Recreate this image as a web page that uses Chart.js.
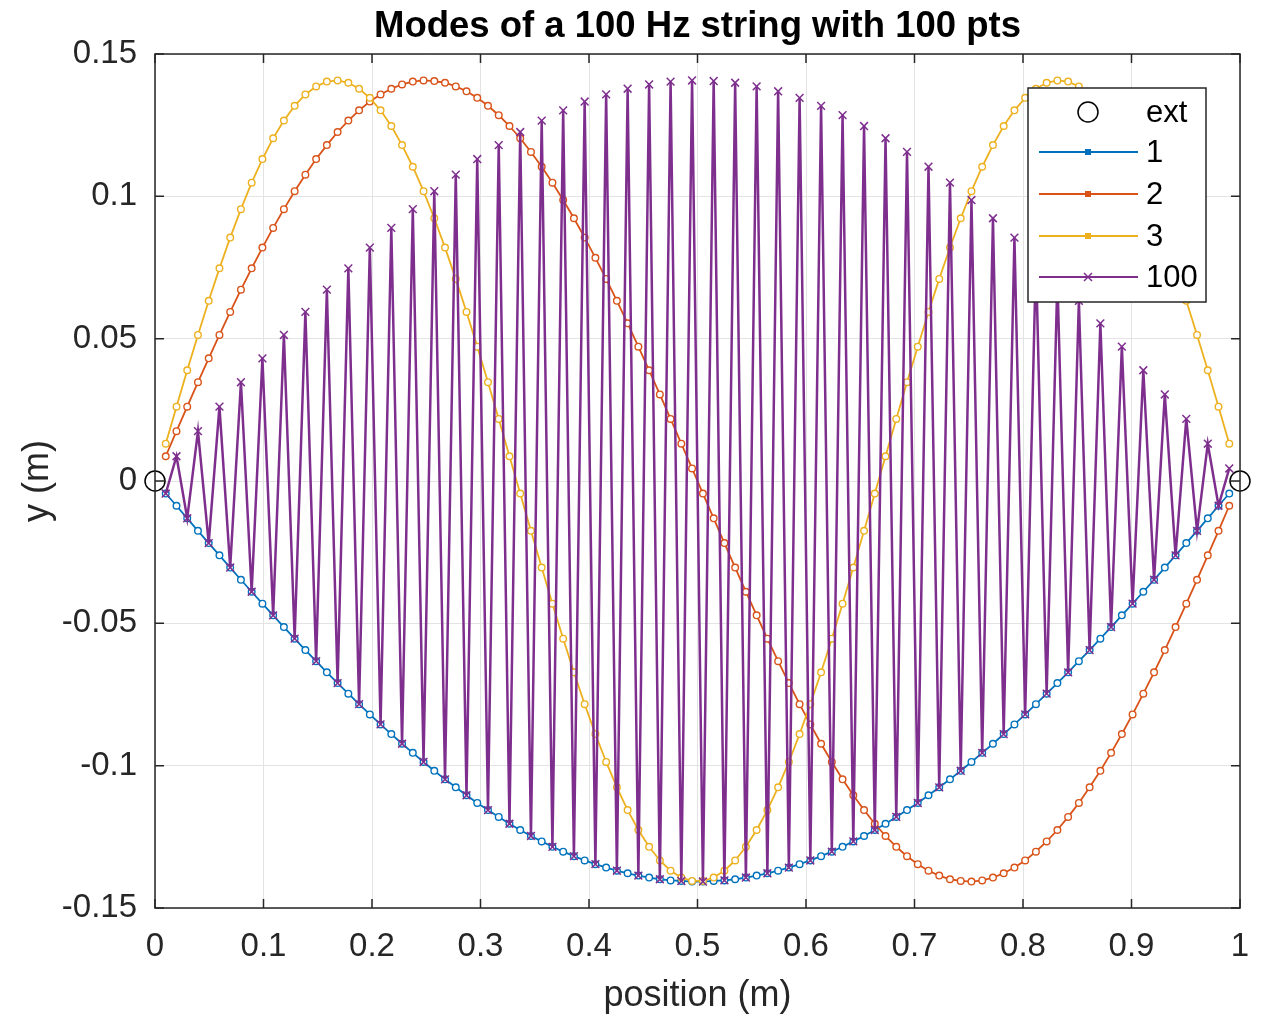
<!DOCTYPE html>
<html>
<head>
<meta charset="utf-8">
<script src="https://cdn.jsdelivr.net/npm/chart.js"></script>
<style>
html, body { margin: 0; padding: 0; background: #fff; }
canvas { display: block; }
</style>
</head>
<body>
<canvas id="modes" width="1261" height="1014"></canvas>
<script>
// string positions (m), 100 interior points
const position = [
  0.0099,0.0198,0.0297,0.0396,0.0495,0.0594,0.0693,0.0792,0.0891,0.0990,
  0.1089,0.1188,0.1287,0.1386,0.1485,0.1584,0.1683,0.1782,0.1881,0.1980,
  0.2079,0.2178,0.2277,0.2376,0.2475,0.2574,0.2673,0.2772,0.2871,0.2970,
  0.3069,0.3168,0.3267,0.3366,0.3465,0.3564,0.3663,0.3762,0.3861,0.3960,
  0.4059,0.4158,0.4257,0.4356,0.4455,0.4554,0.4653,0.4752,0.4851,0.4950,
  0.5050,0.5149,0.5248,0.5347,0.5446,0.5545,0.5644,0.5743,0.5842,0.5941,
  0.6040,0.6139,0.6238,0.6337,0.6436,0.6535,0.6634,0.6733,0.6832,0.6931,
  0.7030,0.7129,0.7228,0.7327,0.7426,0.7525,0.7624,0.7723,0.7822,0.7921,
  0.8020,0.8119,0.8218,0.8317,0.8416,0.8515,0.8614,0.8713,0.8812,0.8911,
  0.9010,0.9109,0.9208,0.9307,0.9406,0.9505,0.9604,0.9703,0.9802,0.9901
];

const mode1 = [
  -0.0044,-0.0087,-0.0131,-0.0175,-0.0218,-0.0261,-0.0304,-0.0347,-0.0389,-0.0431,
  -0.0472,-0.0513,-0.0554,-0.0594,-0.0633,-0.0672,-0.0710,-0.0747,-0.0784,-0.0820,
  -0.0855,-0.0889,-0.0923,-0.0955,-0.0987,-0.1018,-0.1048,-0.1076,-0.1104,-0.1131,
  -0.1156,-0.1180,-0.1204,-0.1226,-0.1247,-0.1266,-0.1285,-0.1302,-0.1318,-0.1333,
  -0.1346,-0.1358,-0.1369,-0.1378,-0.1386,-0.1393,-0.1399,-0.1403,-0.1405,-0.1407,
  -0.1407,-0.1405,-0.1403,-0.1399,-0.1393,-0.1386,-0.1378,-0.1369,-0.1358,-0.1346,
  -0.1333,-0.1318,-0.1302,-0.1285,-0.1266,-0.1247,-0.1226,-0.1204,-0.1180,-0.1156,
  -0.1131,-0.1104,-0.1076,-0.1048,-0.1018,-0.0987,-0.0955,-0.0923,-0.0889,-0.0855,
  -0.0820,-0.0784,-0.0747,-0.0710,-0.0672,-0.0633,-0.0594,-0.0554,-0.0513,-0.0472,
  -0.0431,-0.0389,-0.0347,-0.0304,-0.0261,-0.0218,-0.0175,-0.0131,-0.0087,-0.0044
];

const mode2 = [
  0.0087,0.0175,0.0261,0.0347,0.0431,0.0513,0.0594,0.0672,0.0747,0.0820,
  0.0889,0.0955,0.1018,0.1076,0.1131,0.1180,0.1226,0.1266,0.1302,0.1333,
  0.1358,0.1378,0.1393,0.1403,0.1407,0.1405,0.1399,0.1386,0.1369,0.1346,
  0.1318,0.1285,0.1247,0.1204,0.1156,0.1104,0.1048,0.0987,0.0923,0.0855,
  0.0784,0.0710,0.0633,0.0554,0.0472,0.0389,0.0304,0.0218,0.0131,0.0044,
  -0.0044,-0.0131,-0.0218,-0.0304,-0.0389,-0.0472,-0.0554,-0.0633,-0.0710,-0.0784,
  -0.0855,-0.0923,-0.0987,-0.1048,-0.1104,-0.1156,-0.1204,-0.1247,-0.1285,-0.1318,
  -0.1346,-0.1369,-0.1386,-0.1399,-0.1405,-0.1407,-0.1403,-0.1393,-0.1378,-0.1358,
  -0.1333,-0.1302,-0.1266,-0.1226,-0.1180,-0.1131,-0.1076,-0.1018,-0.0955,-0.0889,
  -0.0820,-0.0747,-0.0672,-0.0594,-0.0513,-0.0431,-0.0347,-0.0261,-0.0175,-0.0087
];

const mode3 = [
  0.0131,0.0261,0.0389,0.0513,0.0633,0.0747,0.0855,0.0955,0.1048,0.1131,
  0.1204,0.1266,0.1318,0.1358,0.1386,0.1403,0.1407,0.1399,0.1378,0.1346,
  0.1302,0.1247,0.1180,0.1104,0.1018,0.0923,0.0820,0.0710,0.0594,0.0472,
  0.0347,0.0218,0.0087,-0.0044,-0.0175,-0.0304,-0.0431,-0.0554,-0.0672,-0.0784,
  -0.0889,-0.0987,-0.1076,-0.1156,-0.1226,-0.1285,-0.1333,-0.1369,-0.1393,-0.1405,
  -0.1405,-0.1393,-0.1369,-0.1333,-0.1285,-0.1226,-0.1156,-0.1076,-0.0987,-0.0889,
  -0.0784,-0.0672,-0.0554,-0.0431,-0.0304,-0.0175,-0.0044,0.0087,0.0218,0.0347,
  0.0472,0.0594,0.0710,0.0820,0.0923,0.1018,0.1104,0.1180,0.1247,0.1302,
  0.1346,0.1378,0.1399,0.1407,0.1403,0.1386,0.1358,0.1318,0.1266,0.1204,
  0.1131,0.1048,0.0955,0.0855,0.0747,0.0633,0.0513,0.0389,0.0261,0.0131
];

const mode100 = [
  -0.0044,0.0087,-0.0131,0.0175,-0.0218,0.0261,-0.0304,0.0347,-0.0389,0.0431,
  -0.0472,0.0513,-0.0554,0.0594,-0.0633,0.0672,-0.0710,0.0747,-0.0784,0.0820,
  -0.0855,0.0889,-0.0923,0.0955,-0.0987,0.1018,-0.1048,0.1076,-0.1104,0.1131,
  -0.1156,0.1180,-0.1204,0.1226,-0.1247,0.1266,-0.1285,0.1302,-0.1318,0.1333,
  -0.1346,0.1358,-0.1369,0.1378,-0.1386,0.1393,-0.1399,0.1403,-0.1405,0.1407,
  -0.1407,0.1405,-0.1403,0.1399,-0.1393,0.1386,-0.1378,0.1369,-0.1358,0.1346,
  -0.1333,0.1318,-0.1302,0.1285,-0.1266,0.1247,-0.1226,0.1204,-0.1180,0.1156,
  -0.1131,0.1104,-0.1076,0.1048,-0.1018,0.0987,-0.0955,0.0923,-0.0889,0.0855,
  -0.0820,0.0784,-0.0747,0.0710,-0.0672,0.0633,-0.0594,0.0554,-0.0513,0.0472,
  -0.0431,0.0389,-0.0347,0.0304,-0.0261,0.0218,-0.0175,0.0131,-0.0087,0.0044
];

// fixed ends of the string
const extX = [0, 1];
const extY = [0, 0];

const xTicks = [0, 0.1, 0.2, 0.3, 0.4, 0.5, 0.6, 0.7, 0.8, 0.9, 1];
const xTickLabels = ["0","0.1","0.2","0.3","0.4","0.5","0.6","0.7","0.8","0.9","1"];
const yTicks = [-0.15, -0.1, -0.05, 0, 0.05, 0.1, 0.15];
const yTickLabels = ["-0.15","-0.1","-0.05","0","0.05","0.1","0.15"];

const TITLE = "Modes of a 100 Hz string with 100 pts";
const FONT = '"Liberation Sans", Arial, Helvetica, sans-serif';
const AXIS = "#262626";

function pts(xs, ys) {
    return xs.map((x, i) => ({ x: x, y: ys[i] }));
}

function crossAt(ctx, x, y, r) {
    ctx.beginPath();
    ctx.moveTo(x - r, y - r); ctx.lineTo(x + r, y + r);
    ctx.moveTo(x + r, y - r); ctx.lineTo(x - r, y + r);
    ctx.stroke();
}

// box with inward ticks, title over the axes and a matlab style legend
const matlabAxes = {
    id: "matlabAxes",
    afterDraw(chart) {
        const ctx = chart.ctx;
        const a = chart.chartArea;
        const sx = chart.scales.x, sy = chart.scales.y;
        ctx.save();
        ctx.strokeStyle = AXIS;
        ctx.lineWidth = 1.5;
        ctx.strokeRect(a.left, a.top, a.right - a.left, a.bottom - a.top);
        ctx.beginPath();
        xTicks.forEach(v => {
            const px = sx.getPixelForValue(v);
            ctx.moveTo(px, a.bottom); ctx.lineTo(px, a.bottom - 9);
            ctx.moveTo(px, a.top); ctx.lineTo(px, a.top + 9);
        });
        yTicks.forEach(v => {
            const py = sy.getPixelForValue(v);
            ctx.moveTo(a.left, py); ctx.lineTo(a.left + 9, py);
            ctx.moveTo(a.right, py); ctx.lineTo(a.right - 9, py);
        });
        ctx.stroke();

        ctx.fillStyle = "#000";
        ctx.font = "bold 36.5px " + FONT;
        ctx.textAlign = "center";
        ctx.textBaseline = "alphabetic";
        ctx.fillText(TITLE, (a.left + a.right) / 2, a.top - 17);

        // legend
        const lx = a.right - 212, ly = a.top + 34, lw = 178, lh = 214;
        ctx.fillStyle = "#fff";
        ctx.fillRect(lx, ly, lw, lh);
        ctx.strokeStyle = AXIS;
        ctx.lineWidth = 1.5;
        ctx.strokeRect(lx, ly, lw, lh);

        const rows = [24, 64, 106, 148, 189];
        ctx.font = "31px " + FONT;
        ctx.textBaseline = "middle";
        ctx.textAlign = "left";
        chart.data.datasets.forEach((ds, i) => {
            const y = ly + rows[i];
            const mx = lx + 60;
            if (ds.showLine) {
                ctx.strokeStyle = ds.borderColor;
                ctx.lineWidth = 1.8;
                ctx.beginPath();
                ctx.moveTo(lx + 11, y); ctx.lineTo(lx + 110, y);
                ctx.stroke();
            }
            if (ds.pointStyle === "crossRot") {
                ctx.strokeStyle = ds.borderColor;
                ctx.lineWidth = 1.5;
                crossAt(ctx, mx, y, 4);
            } else if (ds.showLine) {
                ctx.fillStyle = ds.borderColor;
                ctx.fillRect(mx - 3, y - 3, 6, 6);
            } else {
                ctx.strokeStyle = ds.pointBorderColor;
                ctx.lineWidth = 1.5;
                ctx.beginPath();
                ctx.arc(mx, y, 10, 0, Math.PI * 2);
                ctx.stroke();
            }
            ctx.fillStyle = "#000";
            ctx.fillText(ds.label, lx + 118, y + 1);
        });
        ctx.restore();
    }
};

const ringPoint = (color, order, label, ys) => ({
    label: label,
    data: pts(position, ys),
    showLine: true,
    borderColor: color,
    borderWidth: 1.8,
    pointStyle: "circle",
    pointRadius: 3.3,
    pointBorderWidth: 1.4,
    pointBorderColor: color,
    pointBackgroundColor: "#fff",
    order: order
});

new Chart(document.getElementById("modes"), {
    type: "scatter",
    data: {
        datasets: [
            {
                label: "ext",
                data: pts(extX, extY),
                showLine: false,
                clip: false,
                pointStyle: "circle",
                pointRadius: 10,
                pointBorderWidth: 1.5,
                pointBorderColor: "#000",
                pointBackgroundColor: "rgba(0,0,0,0)",
                order: 0
            },
            ringPoint("#0072BD", 4, "1", mode1),
            ringPoint("#D95319", 3, "2", mode2),
            ringPoint("#EDB120", 2, "3", mode3),
            {
                label: "100",
                data: pts(position, mode100),
                showLine: true,
                borderColor: "#7E2F8E",
                borderWidth: 2.5,
                pointStyle: "crossRot",
                pointRadius: 5.5,
                pointBorderWidth: 1.5,
                pointBorderColor: "#7E2F8E",
                pointBackgroundColor: "#7E2F8E",
                order: 1
            }
        ]
    },
    options: {
        responsive: false,
        animation: false,
        devicePixelRatio: 1,
        events: [],
        layout: { padding: { left: 0, right: 0, top: 54, bottom: 0 } },
        plugins: {
            legend: { display: false },
            tooltip: { enabled: false },
            title: { display: false }
        },
        scales: {
            x: {
                type: "linear",
                min: 0,
                max: 1,
                afterBuildTicks: s => { s.ticks = xTicks.map(v => ({ value: v })); },
                afterFit: s => { s.height = 106; s.paddingLeft = 0; s.paddingRight = 21; },
                ticks: {
                    callback: (v, i) => xTickLabels[i],
                    color: AXIS,
                    font: { family: FONT, size: 33 },
                    padding: 19,
                    maxRotation: 0,
                    autoSkip: false
                },
                grid: { color: "#e3e3e3", drawTicks: false },
                border: { display: false },
                title: {
                    display: true,
                    text: "position (m)",
                    color: AXIS,
                    font: { family: FONT, size: 36 },
                    padding: { top: 0, bottom: -4 }
                }
            },
            y: {
                type: "linear",
                min: -0.15,
                max: 0.15,
                afterBuildTicks: s => { s.ticks = yTicks.map(v => ({ value: v })); },
                afterFit: s => { s.width = 155; },
                ticks: {
                    callback: (v, i) => yTickLabels[i],
                    color: AXIS,
                    font: { family: FONT, size: 33 },
                    padding: 18,
                    autoSkip: false
                },
                grid: { color: "#e3e3e3", drawTicks: false },
                border: { display: false },
                title: {
                    display: true,
                    text: "y (m)",
                    color: AXIS,
                    font: { family: FONT, size: 36 },
                    padding: { top: 16, bottom: 0 }
                }
            }
        }
    },
    plugins: [matlabAxes]
});
</script>
</body>
</html>
